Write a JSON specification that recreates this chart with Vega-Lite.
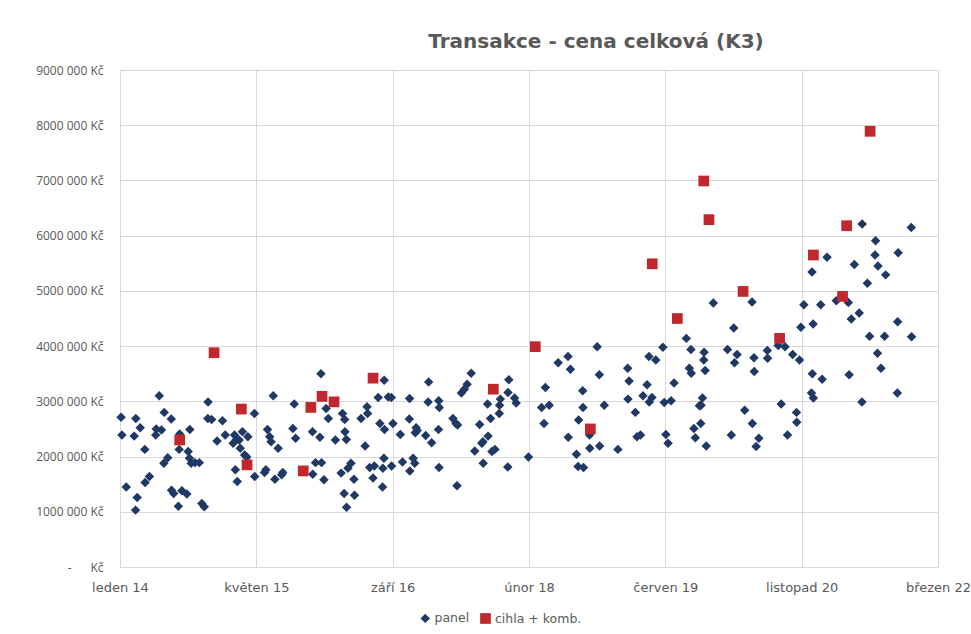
{
  "$schema": "https://vega.github.io/schema/vega-lite/v6.json",
  "autosize": {"type": "none"},
  "width": 818,
  "height": 497,
  "padding": {"left": 120, "top": 70, "right": 33, "bottom": 67},
  "background": "white",
  "title": {
    "text": "Transakce - cena celková (K3)",
    "fontSize": 20,
    "fontWeight": "bold",
    "font": "DejaVu Sans",
    "color": "#595959",
    "anchor": "middle",
    "dx": 67,
    "offset": 12
  },
  "config": {
    "view": {"stroke": null},
    "font": "DejaVu Sans"
  },
  "data": {
    "values": [
      {"datum": "2014-05-25", "cena": 3100000, "typ": "panel"},
      {"datum": "2014-06-12", "cena": 2800000, "typ": "panel"},
      {"datum": "2014-07-08", "cena": 2680000, "typ": "panel"},
      {"datum": "2014-01-05", "cena": 2710000, "typ": "panel"},
      {"datum": "2014-02-28", "cena": 2690000, "typ": "panel"},
      {"datum": "2014-03-16", "cena": 2520000, "typ": "panel"},
      {"datum": "2014-01-08", "cena": 2390000, "typ": "panel"},
      {"datum": "2014-02-22", "cena": 2370000, "typ": "panel"},
      {"datum": "2014-05-14", "cena": 2500000, "typ": "panel"},
      {"datum": "2014-06-02", "cena": 2480000, "typ": "panel"},
      {"datum": "2014-05-12", "cena": 2390000, "typ": "panel"},
      {"datum": "2014-08-08", "cena": 2410000, "typ": "panel"},
      {"datum": "2014-08-06", "cena": 2130000, "typ": "panel"},
      {"datum": "2014-04-02", "cena": 2130000, "typ": "panel"},
      {"datum": "2014-06-25", "cena": 1980000, "typ": "panel"},
      {"datum": "2014-06-11", "cena": 1880000, "typ": "panel"},
      {"datum": "2014-04-19", "cena": 1640000, "typ": "panel"},
      {"datum": "2014-04-03", "cena": 1530000, "typ": "panel"},
      {"datum": "2014-01-24", "cena": 1450000, "typ": "panel"},
      {"datum": "2014-07-09", "cena": 1390000, "typ": "panel"},
      {"datum": "2014-07-17", "cena": 1330000, "typ": "panel"},
      {"datum": "2014-08-16", "cena": 1380000, "typ": "panel"},
      {"datum": "2014-03-05", "cena": 1260000, "typ": "panel"},
      {"datum": "2014-02-27", "cena": 1030000, "typ": "panel"},
      {"datum": "2014-08-03", "cena": 1100000, "typ": "panel"},
      {"datum": "2014-11-20", "cena": 2990000, "typ": "panel"},
      {"datum": "2014-11-19", "cena": 2690000, "typ": "panel"},
      {"datum": "2014-12-03", "cena": 2670000, "typ": "panel"},
      {"datum": "2015-01-12", "cena": 2650000, "typ": "panel"},
      {"datum": "2015-05-09", "cena": 2780000, "typ": "panel"},
      {"datum": "2014-09-14", "cena": 2490000, "typ": "panel"},
      {"datum": "2014-12-23", "cena": 2280000, "typ": "panel"},
      {"datum": "2015-01-22", "cena": 2390000, "typ": "panel"},
      {"datum": "2015-02-25", "cena": 2390000, "typ": "panel"},
      {"datum": "2015-03-03", "cena": 2300000, "typ": "panel"},
      {"datum": "2015-02-20", "cena": 2240000, "typ": "panel"},
      {"datum": "2015-03-14", "cena": 2300000, "typ": "panel"},
      {"datum": "2015-03-26", "cena": 2450000, "typ": "panel"},
      {"datum": "2015-04-15", "cena": 2360000, "typ": "panel"},
      {"datum": "2015-03-18", "cena": 2150000, "typ": "panel"},
      {"datum": "2015-04-03", "cena": 2030000, "typ": "panel"},
      {"datum": "2015-04-11", "cena": 1990000, "typ": "panel"},
      {"datum": "2015-02-28", "cena": 1760000, "typ": "panel"},
      {"datum": "2015-03-07", "cena": 1550000, "typ": "panel"},
      {"datum": "2014-09-08", "cena": 2090000, "typ": "panel"},
      {"datum": "2014-09-13", "cena": 1970000, "typ": "panel"},
      {"datum": "2014-09-19", "cena": 1880000, "typ": "panel"},
      {"datum": "2014-10-03", "cena": 1890000, "typ": "panel"},
      {"datum": "2014-10-19", "cena": 1890000, "typ": "panel"},
      {"datum": "2014-09-03", "cena": 1320000, "typ": "panel"},
      {"datum": "2014-10-28", "cena": 1150000, "typ": "panel"},
      {"datum": "2014-11-06", "cena": 1090000, "typ": "panel"},
      {"datum": "2015-05-10", "cena": 1640000, "typ": "panel"},
      {"datum": "2016-01-08", "cena": 3500000, "typ": "panel"},
      {"datum": "2015-07-17", "cena": 3100000, "typ": "panel"},
      {"datum": "2015-10-02", "cena": 2950000, "typ": "panel"},
      {"datum": "2016-01-27", "cena": 2870000, "typ": "panel"},
      {"datum": "2015-06-26", "cena": 2490000, "typ": "panel"},
      {"datum": "2015-07-04", "cena": 2360000, "typ": "panel"},
      {"datum": "2015-07-09", "cena": 2270000, "typ": "panel"},
      {"datum": "2015-08-04", "cena": 2150000, "typ": "panel"},
      {"datum": "2015-09-27", "cena": 2510000, "typ": "panel"},
      {"datum": "2015-10-07", "cena": 2330000, "typ": "panel"},
      {"datum": "2015-12-08", "cena": 2450000, "typ": "panel"},
      {"datum": "2016-01-04", "cena": 2350000, "typ": "panel"},
      {"datum": "2015-06-15", "cena": 1710000, "typ": "panel"},
      {"datum": "2015-06-20", "cena": 1760000, "typ": "panel"},
      {"datum": "2015-07-23", "cena": 1590000, "typ": "panel"},
      {"datum": "2015-08-17", "cena": 1670000, "typ": "panel"},
      {"datum": "2015-08-21", "cena": 1710000, "typ": "panel"},
      {"datum": "2015-12-09", "cena": 1680000, "typ": "panel"},
      {"datum": "2015-12-19", "cena": 1890000, "typ": "panel"},
      {"datum": "2016-01-10", "cena": 1890000, "typ": "panel"},
      {"datum": "2016-01-19", "cena": 1580000, "typ": "panel"},
      {"datum": "2016-08-27", "cena": 3380000, "typ": "panel"},
      {"datum": "2016-08-05", "cena": 3070000, "typ": "panel"},
      {"datum": "2016-09-11", "cena": 3080000, "typ": "panel"},
      {"datum": "2016-09-22", "cena": 3070000, "typ": "panel"},
      {"datum": "2016-02-04", "cena": 2690000, "typ": "panel"},
      {"datum": "2016-03-27", "cena": 2780000, "typ": "panel"},
      {"datum": "2016-04-04", "cena": 2670000, "typ": "panel"},
      {"datum": "2016-06-03", "cena": 2690000, "typ": "panel"},
      {"datum": "2016-06-25", "cena": 2900000, "typ": "panel"},
      {"datum": "2016-06-27", "cena": 2780000, "typ": "panel"},
      {"datum": "2016-08-11", "cena": 2600000, "typ": "panel"},
      {"datum": "2016-08-28", "cena": 2490000, "typ": "panel"},
      {"datum": "2016-09-28", "cena": 2600000, "typ": "panel"},
      {"datum": "2016-03-01", "cena": 2300000, "typ": "panel"},
      {"datum": "2016-04-05", "cena": 2450000, "typ": "panel"},
      {"datum": "2016-04-10", "cena": 2310000, "typ": "panel"},
      {"datum": "2016-06-18", "cena": 2190000, "typ": "panel"},
      {"datum": "2016-03-22", "cena": 1700000, "typ": "panel"},
      {"datum": "2016-04-16", "cena": 1790000, "typ": "panel"},
      {"datum": "2016-04-27", "cena": 1880000, "typ": "panel"},
      {"datum": "2016-05-08", "cena": 1590000, "typ": "panel"},
      {"datum": "2016-04-02", "cena": 1330000, "typ": "panel"},
      {"datum": "2016-05-10", "cena": 1300000, "typ": "panel"},
      {"datum": "2016-04-11", "cena": 1080000, "typ": "panel"},
      {"datum": "2016-07-05", "cena": 1800000, "typ": "panel"},
      {"datum": "2016-07-22", "cena": 1830000, "typ": "panel"},
      {"datum": "2016-08-26", "cena": 1970000, "typ": "panel"},
      {"datum": "2016-08-22", "cena": 1790000, "typ": "panel"},
      {"datum": "2016-09-23", "cena": 1830000, "typ": "panel"},
      {"datum": "2016-07-17", "cena": 1610000, "typ": "panel"},
      {"datum": "2016-08-21", "cena": 1450000, "typ": "panel"},
      {"datum": "2017-02-06", "cena": 3350000, "typ": "panel"},
      {"datum": "2016-11-28", "cena": 3050000, "typ": "panel"},
      {"datum": "2017-02-04", "cena": 2990000, "typ": "panel"},
      {"datum": "2017-03-15", "cena": 3010000, "typ": "panel"},
      {"datum": "2017-03-17", "cena": 2890000, "typ": "panel"},
      {"datum": "2017-06-06", "cena": 3150000, "typ": "panel"},
      {"datum": "2017-06-17", "cena": 3220000, "typ": "panel"},
      {"datum": "2017-06-27", "cena": 3310000, "typ": "panel"},
      {"datum": "2016-10-25", "cena": 2400000, "typ": "panel"},
      {"datum": "2016-11-27", "cena": 2680000, "typ": "panel"},
      {"datum": "2016-12-22", "cena": 2520000, "typ": "panel"},
      {"datum": "2016-12-19", "cena": 2430000, "typ": "panel"},
      {"datum": "2016-12-26", "cena": 2470000, "typ": "panel"},
      {"datum": "2017-01-26", "cena": 2380000, "typ": "panel"},
      {"datum": "2017-02-17", "cena": 2250000, "typ": "panel"},
      {"datum": "2017-03-14", "cena": 2490000, "typ": "panel"},
      {"datum": "2017-05-06", "cena": 2690000, "typ": "panel"},
      {"datum": "2017-05-17", "cena": 2600000, "typ": "panel"},
      {"datum": "2017-05-23", "cena": 2570000, "typ": "panel"},
      {"datum": "2016-11-02", "cena": 1900000, "typ": "panel"},
      {"datum": "2016-11-29", "cena": 1740000, "typ": "panel"},
      {"datum": "2016-12-11", "cena": 1970000, "typ": "panel"},
      {"datum": "2016-12-17", "cena": 1880000, "typ": "panel"},
      {"datum": "2017-03-16", "cena": 1800000, "typ": "panel"},
      {"datum": "2017-05-21", "cena": 1470000, "typ": "panel"},
      {"datum": "2017-07-12", "cena": 3510000, "typ": "panel"},
      {"datum": "2017-11-27", "cena": 3390000, "typ": "panel"},
      {"datum": "2017-11-24", "cena": 3160000, "typ": "panel"},
      {"datum": "2017-12-18", "cena": 3060000, "typ": "panel"},
      {"datum": "2017-12-24", "cena": 2970000, "typ": "panel"},
      {"datum": "2017-10-27", "cena": 3040000, "typ": "panel"},
      {"datum": "2017-10-24", "cena": 2930000, "typ": "panel"},
      {"datum": "2017-09-10", "cena": 2950000, "typ": "panel"},
      {"datum": "2017-09-21", "cena": 2690000, "typ": "panel"},
      {"datum": "2017-10-23", "cena": 2780000, "typ": "panel"},
      {"datum": "2017-08-12", "cena": 2580000, "typ": "panel"},
      {"datum": "2017-09-12", "cena": 2370000, "typ": "panel"},
      {"datum": "2017-08-24", "cena": 2270000, "typ": "panel"},
      {"datum": "2017-08-20", "cena": 2240000, "typ": "panel"},
      {"datum": "2017-07-25", "cena": 2100000, "typ": "panel"},
      {"datum": "2017-09-26", "cena": 2090000, "typ": "panel"},
      {"datum": "2017-10-07", "cena": 2130000, "typ": "panel"},
      {"datum": "2017-08-25", "cena": 1880000, "typ": "panel"},
      {"datum": "2017-11-23", "cena": 1810000, "typ": "panel"},
      {"datum": "2018-02-07", "cena": 1990000, "typ": "panel"},
      {"datum": "2018-10-17", "cena": 3990000, "typ": "panel"},
      {"datum": "2018-07-02", "cena": 3810000, "typ": "panel"},
      {"datum": "2018-05-27", "cena": 3700000, "typ": "panel"},
      {"datum": "2018-07-11", "cena": 3580000, "typ": "panel"},
      {"datum": "2018-10-25", "cena": 3480000, "typ": "panel"},
      {"datum": "2018-04-10", "cena": 3250000, "typ": "panel"},
      {"datum": "2018-08-25", "cena": 3190000, "typ": "panel"},
      {"datum": "2018-03-27", "cena": 2890000, "typ": "panel"},
      {"datum": "2018-04-24", "cena": 2930000, "typ": "panel"},
      {"datum": "2018-08-26", "cena": 2890000, "typ": "panel"},
      {"datum": "2018-11-12", "cena": 2930000, "typ": "panel"},
      {"datum": "2018-04-05", "cena": 2600000, "typ": "panel"},
      {"datum": "2018-08-10", "cena": 2660000, "typ": "panel"},
      {"datum": "2018-09-19", "cena": 2390000, "typ": "panel"},
      {"datum": "2018-07-03", "cena": 2350000, "typ": "panel"},
      {"datum": "2018-09-20", "cena": 2150000, "typ": "panel"},
      {"datum": "2018-10-26", "cena": 2190000, "typ": "panel"},
      {"datum": "2018-08-02", "cena": 2040000, "typ": "panel"},
      {"datum": "2018-08-08", "cena": 1820000, "typ": "panel"},
      {"datum": "2018-08-28", "cena": 1800000, "typ": "panel"},
      {"datum": "2019-06-15", "cena": 3980000, "typ": "panel"},
      {"datum": "2019-04-25", "cena": 3810000, "typ": "panel"},
      {"datum": "2019-05-20", "cena": 3750000, "typ": "panel"},
      {"datum": "2019-02-06", "cena": 3600000, "typ": "panel"},
      {"datum": "2019-02-11", "cena": 3370000, "typ": "panel"},
      {"datum": "2019-04-18", "cena": 3300000, "typ": "panel"},
      {"datum": "2019-02-07", "cena": 3040000, "typ": "panel"},
      {"datum": "2019-04-03", "cena": 3100000, "typ": "panel"},
      {"datum": "2019-05-06", "cena": 3070000, "typ": "panel"},
      {"datum": "2019-04-26", "cena": 2990000, "typ": "panel"},
      {"datum": "2019-06-20", "cena": 2980000, "typ": "panel"},
      {"datum": "2019-07-15", "cena": 3010000, "typ": "panel"},
      {"datum": "2019-07-26", "cena": 3330000, "typ": "panel"},
      {"datum": "2019-03-06", "cena": 2800000, "typ": "panel"},
      {"datum": "2019-03-12", "cena": 2360000, "typ": "panel"},
      {"datum": "2019-03-25", "cena": 2390000, "typ": "panel"},
      {"datum": "2019-06-26", "cena": 2400000, "typ": "panel"},
      {"datum": "2019-07-04", "cena": 2240000, "typ": "panel"},
      {"datum": "2019-01-01", "cena": 2130000, "typ": "panel"},
      {"datum": "2019-12-17", "cena": 4780000, "typ": "panel"},
      {"datum": "2020-03-01", "cena": 4330000, "typ": "panel"},
      {"datum": "2019-09-09", "cena": 4140000, "typ": "panel"},
      {"datum": "2019-09-26", "cena": 3940000, "typ": "panel"},
      {"datum": "2019-11-13", "cena": 3890000, "typ": "panel"},
      {"datum": "2019-11-12", "cena": 3750000, "typ": "panel"},
      {"datum": "2019-11-17", "cena": 3560000, "typ": "panel"},
      {"datum": "2020-02-07", "cena": 3940000, "typ": "panel"},
      {"datum": "2020-03-13", "cena": 3850000, "typ": "panel"},
      {"datum": "2020-03-04", "cena": 3700000, "typ": "panel"},
      {"datum": "2019-09-20", "cena": 3600000, "typ": "panel"},
      {"datum": "2019-09-27", "cena": 3510000, "typ": "panel"},
      {"datum": "2019-11-07", "cena": 3060000, "typ": "panel"},
      {"datum": "2019-11-02", "cena": 2930000, "typ": "panel"},
      {"datum": "2019-10-27", "cena": 2920000, "typ": "panel"},
      {"datum": "2020-04-10", "cena": 2840000, "typ": "panel"},
      {"datum": "2019-11-01", "cena": 2600000, "typ": "panel"},
      {"datum": "2019-10-07", "cena": 2510000, "typ": "panel"},
      {"datum": "2019-10-12", "cena": 2340000, "typ": "panel"},
      {"datum": "2019-11-21", "cena": 2190000, "typ": "panel"},
      {"datum": "2020-02-21", "cena": 2390000, "typ": "panel"},
      {"datum": "2020-12-13", "cena": 5340000, "typ": "panel"},
      {"datum": "2020-05-07", "cena": 4800000, "typ": "panel"},
      {"datum": "2020-08-11", "cena": 4010000, "typ": "panel"},
      {"datum": "2020-09-05", "cena": 3990000, "typ": "panel"},
      {"datum": "2020-07-02", "cena": 3920000, "typ": "panel"},
      {"datum": "2020-07-03", "cena": 3780000, "typ": "panel"},
      {"datum": "2020-05-14", "cena": 3790000, "typ": "panel"},
      {"datum": "2020-05-15", "cena": 3540000, "typ": "panel"},
      {"datum": "2020-10-03", "cena": 3850000, "typ": "panel"},
      {"datum": "2020-10-28", "cena": 3750000, "typ": "panel"},
      {"datum": "2020-11-13", "cena": 4750000, "typ": "panel"},
      {"datum": "2020-11-02", "cena": 4340000, "typ": "panel"},
      {"datum": "2020-12-17", "cena": 4400000, "typ": "panel"},
      {"datum": "2020-12-14", "cena": 3500000, "typ": "panel"},
      {"datum": "2020-12-11", "cena": 3150000, "typ": "panel"},
      {"datum": "2020-12-18", "cena": 3060000, "typ": "panel"},
      {"datum": "2020-05-08", "cena": 2600000, "typ": "panel"},
      {"datum": "2020-06-01", "cena": 2330000, "typ": "panel"},
      {"datum": "2020-05-22", "cena": 2180000, "typ": "panel"},
      {"datum": "2020-08-22", "cena": 2950000, "typ": "panel"},
      {"datum": "2020-09-14", "cena": 2390000, "typ": "panel"},
      {"datum": "2020-10-17", "cena": 2800000, "typ": "panel"},
      {"datum": "2020-10-18", "cena": 2620000, "typ": "panel"},
      {"datum": "2021-06-15", "cena": 6210000, "typ": "panel"},
      {"datum": "2021-08-03", "cena": 5910000, "typ": "panel"},
      {"datum": "2021-08-01", "cena": 5650000, "typ": "panel"},
      {"datum": "2021-08-12", "cena": 5450000, "typ": "panel"},
      {"datum": "2021-05-17", "cena": 5480000, "typ": "panel"},
      {"datum": "2021-02-06", "cena": 5610000, "typ": "panel"},
      {"datum": "2021-07-04", "cena": 5140000, "typ": "panel"},
      {"datum": "2021-09-09", "cena": 5290000, "typ": "panel"},
      {"datum": "2021-03-12", "cena": 4820000, "typ": "panel"},
      {"datum": "2021-04-25", "cena": 4790000, "typ": "panel"},
      {"datum": "2021-01-14", "cena": 4750000, "typ": "panel"},
      {"datum": "2021-06-04", "cena": 4600000, "typ": "panel"},
      {"datum": "2021-05-06", "cena": 4490000, "typ": "panel"},
      {"datum": "2021-07-12", "cena": 4180000, "typ": "panel"},
      {"datum": "2021-09-05", "cena": 4180000, "typ": "panel"},
      {"datum": "2021-08-10", "cena": 3870000, "typ": "panel"},
      {"datum": "2021-08-23", "cena": 3600000, "typ": "panel"},
      {"datum": "2021-01-19", "cena": 3400000, "typ": "panel"},
      {"datum": "2021-04-28", "cena": 3480000, "typ": "panel"},
      {"datum": "2021-06-14", "cena": 2990000, "typ": "panel"},
      {"datum": "2021-12-12", "cena": 6150000, "typ": "panel"},
      {"datum": "2021-10-25", "cena": 5690000, "typ": "panel"},
      {"datum": "2021-10-23", "cena": 4440000, "typ": "panel"},
      {"datum": "2021-12-13", "cena": 4170000, "typ": "panel"},
      {"datum": "2021-10-22", "cena": 3150000, "typ": "panel"},
      {"datum": "2014-08-08", "cena": 2300000, "typ": "cihla + komb."},
      {"datum": "2014-12-12", "cena": 3880000, "typ": "cihla + komb."},
      {"datum": "2015-03-22", "cena": 2860000, "typ": "cihla + komb."},
      {"datum": "2015-04-12", "cena": 1850000, "typ": "cihla + komb."},
      {"datum": "2015-12-02", "cena": 2890000, "typ": "cihla + komb."},
      {"datum": "2016-01-12", "cena": 3090000, "typ": "cihla + komb."},
      {"datum": "2015-11-04", "cena": 1740000, "typ": "cihla + komb."},
      {"datum": "2016-02-25", "cena": 2990000, "typ": "cihla + komb."},
      {"datum": "2016-07-17", "cena": 3420000, "typ": "cihla + komb."},
      {"datum": "2017-10-01", "cena": 3220000, "typ": "cihla + komb."},
      {"datum": "2018-03-04", "cena": 3990000, "typ": "cihla + komb."},
      {"datum": "2018-09-22", "cena": 2500000, "typ": "cihla + komb."},
      {"datum": "2019-05-07", "cena": 5490000, "typ": "cihla + komb."},
      {"datum": "2019-08-07", "cena": 4500000, "typ": "cihla + komb."},
      {"datum": "2019-11-12", "cena": 6990000, "typ": "cihla + komb."},
      {"datum": "2019-12-01", "cena": 6290000, "typ": "cihla + komb."},
      {"datum": "2020-04-04", "cena": 4990000, "typ": "cihla + komb."},
      {"datum": "2020-12-18", "cena": 5650000, "typ": "cihla + komb."},
      {"datum": "2020-08-16", "cena": 4140000, "typ": "cihla + komb."},
      {"datum": "2021-07-14", "cena": 7890000, "typ": "cihla + komb."},
      {"datum": "2021-04-19", "cena": 6180000, "typ": "cihla + komb."},
      {"datum": "2021-04-04", "cena": 4900000, "typ": "cihla + komb."}
    ]
  },
  "mark": {"type": "point", "filled": true, "opacity": 1},
  "encoding": {
    "x": {
      "field": "datum",
      "type": "temporal",
      "scale": {
        "type": "utc",
        "domain": [
          {"year": 2014, "month": 1, "date": 1, "utc": true},
          {"year": 2022, "month": 3, "date": 20, "utc": true}
        ]
      },
      "axis": {
        "title": null,
        "values": [
          {"year": 2014, "month": 1, "date": 1, "utc": true},
          {"year": 2015, "month": 5, "date": 16, "utc": true},
          {"year": 2016, "month": 9, "date": 27, "utc": true},
          {"year": 2018, "month": 2, "date": 9, "utc": true},
          {"year": 2019, "month": 6, "date": 24, "utc": true},
          {"year": 2020, "month": 11, "date": 5, "utc": true},
          {"year": 2022, "month": 3, "date": 20, "utc": true}
        ],
        "labelExpr": "['leden','únor','březen','duben','květen','červen','červenec','srpen','září','říjen','listopad','prosinec'][utcmonth(datum.value)] + ' ' + utcFormat(datum.value, '%y')",
        "grid": true,
        "gridColor": "#d9d9d9",
        "gridWidth": 1,
        "domainColor": "#d9d9d9",
        "ticks": false,
        "labelPadding": 14,
        "labelFontSize": 13,
        "labelColor": "#595959",
        "labelFont": "DejaVu Sans",
        "labelFlush": false,
        "labelOverlap": false
      }
    },
    "y": {
      "field": "cena",
      "type": "quantitative",
      "scale": {"domain": [0, 9000000], "nice": false, "zero": true},
      "axis": {
        "title": null,
        "values": [0, 1000000, 2000000, 3000000, 4000000, 5000000, 6000000, 7000000, 8000000, 9000000],
        "labelExpr": "datum.value == 0 ? '-\u00a0\u00a0\u00a0\u00a0\u00a0\u00a0Kč' : format(datum.value / 1000000, 'd') + '000 000 Kč'",
        "grid": true,
        "gridColor": "#d9d9d9",
        "gridWidth": 1,
        "domain": false,
        "ticks": false,
        "labelPadding": 17,
        "labelFontSize": 12,
        "labelColor": "#595959",
        "labelFont": "Open Sans"
      }
    },
    "color": {
      "field": "typ",
      "type": "nominal",
      "scale": {"domain": ["panel", "cihla + komb."], "range": ["#203864", "#c0282d"]},
      "legend": {
        "title": null,
        "orient": "none",
        "direction": "horizontal",
        "legendX": 299,
        "legendY": 542,
        "labelFontSize": 12.5,
        "labelColor": "#595959",
        "labelFont": "DejaVu Sans",
        "symbolSize": 90,
        "columnPadding": 9,
        "labelOffset": 3
      }
    },
    "shape": {
      "field": "typ",
      "type": "nominal",
      "scale": {"domain": ["panel", "cihla + komb."], "range": ["diamond", "square"]}
    },
    "size": {
      "field": "typ",
      "type": "nominal",
      "scale": {"domain": ["panel", "cihla + komb."], "range": [90, 115]}
    }
  }
}
